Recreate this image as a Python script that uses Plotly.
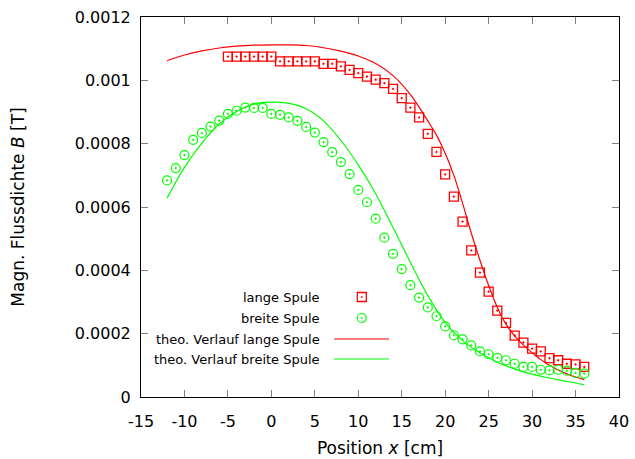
import plotly.graph_objects as go

# ---------------- data ----------------
x_lang = list(range(-5, 37))
b_lang = [0.001075, 0.001075, 0.001075, 0.001075, 0.001075, 0.001075,
          0.00106, 0.00106, 0.00106, 0.00106, 0.00106,
          0.001052, 0.001052, 0.001044, 0.001033, 0.001023, 0.001012, 0.001002,
          0.000991, 0.000973, 0.000944, 0.000914, 0.000883, 0.000831, 0.000774,
          0.000703, 0.000633, 0.000554, 0.000463, 0.000393, 0.000333, 0.000273,
          0.000234, 0.000194, 0.000172, 0.000153, 0.000144, 0.000123, 0.000116,
          0.000105, 0.000103, 0.000095]

x_breit = list(range(-12, 37))
b_breit = [0.000684, 0.000723, 0.000764, 0.000812, 0.000834, 0.000854, 0.000873,
           0.000894, 0.000904, 0.000914, 0.000913, 0.000913, 0.000894, 0.000891,
           0.000883, 0.000872, 0.000853, 0.000835, 0.000805, 0.000773, 0.000742,
           0.000704, 0.000654, 0.000615, 0.000563, 0.000503, 0.000452, 0.000404,
           0.000353, 0.000314, 0.000283, 0.000255, 0.000223, 0.000195, 0.000182,
           0.000163, 0.000144, 0.000135, 0.000124, 0.000116, 0.000105, 0.000095,
           0.000095, 0.000086, 0.000084, 0.000086, 0.000083, 0.000076, 0.000074]

x_theo_lang = [-12, -10, -8, -6, -4, -2, 0, 2, 4, 6, 8, 10, 12, 14, 16, 18, 19, 20,
               21, 22, 23, 24, 25, 26, 27, 28, 29, 30, 31, 32, 33, 34, 35, 36]
b_theo_lang = [0.001062, 0.00108, 0.001093, 0.001102, 0.001108, 0.001111,
               0.001112, 0.001112, 0.00111, 0.001103, 0.001092, 0.001077,
               0.001053, 0.001015, 0.000955, 0.000872, 0.000827, 0.00077,
               0.0007, 0.000612, 0.000518, 0.000432, 0.000352, 0.000283,
               0.00023, 0.000193, 0.000164, 0.00014, 0.000118, 0.0001,
               0.000085, 0.000073, 0.000063, 0.000055]

x_theo_breit = [-12, -10, -8, -6, -4, -2, 0, 2, 4, 6, 8, 10, 12, 14, 16, 18, 20, 22,
                24, 26, 28, 30, 32, 34, 36]
b_theo_breit = [0.000628, 0.000725, 0.000802, 0.000862, 0.000902, 0.000925,
                0.000931, 0.000927, 0.00091, 0.000872, 0.00081, 0.000733,
                0.000642, 0.000535, 0.000425, 0.00032, 0.000235, 0.000178,
                0.00014, 0.00011, 0.000088, 0.000072, 0.00006, 0.000049, 0.000039]

x_ticks = [-15, -10, -5, 0, 5, 10, 15, 20, 25, 30, 35, 40]
x_ticktext = ["-15", "-10", "-5", "0", "5", "10", "15", "20", "25", "30", "35", "40"]
y_ticks = [0, 0.0002, 0.0004, 0.0006, 0.0008, 0.001, 0.0012]
y_ticktext = ["0", "0.0002", "0.0004", "0.0006", "0.0008", "0.001", "0.0012"]

names = ["lange Spule", "breite Spule",
         "theo. Verlauf lange Spule", "theo. Verlauf breite Spule"]

RED = "#ff0000"
GREEN = "#00ff00"
FONT = "DejaVu Sans"

fig = go.Figure()
fig.add_trace(go.Scatter(x=x_theo_lang, y=b_theo_lang, mode="lines", line_shape="spline",
                         line=dict(color=RED, width=1.2), name=names[2]))
fig.add_trace(go.Scatter(x=x_theo_breit, y=b_theo_breit, mode="lines", line_shape="spline",
                         line=dict(color=GREEN, width=1.2), name=names[3]))
fig.add_trace(go.Scatter(x=x_lang, y=b_lang, mode="markers", name=names[0],
                         marker=dict(symbol="square-open-dot", size=9, color=RED,
                                     line=dict(width=1.3, color=RED))))
fig.add_trace(go.Scatter(x=x_breit, y=b_breit, mode="markers", name=names[1],
                         marker=dict(symbol="circle-open-dot", size=9, color=GREEN,
                                     line=dict(width=1.2, color=GREEN))))

# plot area geometry (pixels)
L, R, T, B = 141, 16, 17, 62
W, H = 635, 459
PW, PH = W - L - R, H - T - B


def px(xp):
    return (xp - L) / PW


def py(yp):
    return (H - B - yp) / PH


# manual gnuplot-style key
rows = [297, 318, 339, 359]
annotations = []
for name, yr in zip(names, rows):
    annotations.append(dict(x=px(322), y=py(yr), xref="paper", yref="paper",
                            text=name, showarrow=False, xanchor="right",
                            yanchor="middle", font=dict(family=FONT, size=13, color="black")))

shapes = [
    dict(type="rect", xref="paper", yref="paper",
         x0=px(357.3), x1=px(366.3), y0=py(rows[0] - 4.5), y1=py(rows[0] + 4.5),
         line=dict(color=RED, width=1.3)),
    dict(type="rect", xref="paper", yref="paper",
         x0=px(361.3), x1=px(362.3), y0=py(rows[0] - 0.5), y1=py(rows[0] + 0.5),
         line=dict(color=RED, width=0.6), fillcolor=RED),
    dict(type="circle", xref="paper", yref="paper",
         x0=px(357.3), x1=px(366.3), y0=py(rows[1] - 4.5), y1=py(rows[1] + 4.5),
         line=dict(color=GREEN, width=1.2)),
    dict(type="rect", xref="paper", yref="paper",
         x0=px(361.3), x1=px(362.3), y0=py(rows[1] - 0.5), y1=py(rows[1] + 0.5),
         line=dict(color=GREEN, width=0.6), fillcolor=GREEN),
    dict(type="line", xref="paper", yref="paper",
         x0=px(334), x1=px(389), y0=py(rows[2]), y1=py(rows[2]),
         line=dict(color=RED, width=1.2)),
    dict(type="line", xref="paper", yref="paper",
         x0=px(334), x1=px(389), y0=py(rows[3]), y1=py(rows[3]),
         line=dict(color=GREEN, width=1.2)),
]

axis_common = dict(showgrid=False, zeroline=False, showline=True, linecolor="black",
                   linewidth=1, mirror="allticks", ticks="inside", ticklen=7,
                   tickcolor="#808080", tickwidth=1, automargin=False,
                   tickfont=dict(family=FONT, size=16, color="black"))

fig.update_layout(
    template="none",
    width=W, height=H,
    margin=dict(l=L, r=R, t=T, b=B, pad=0),
    paper_bgcolor="white", plot_bgcolor="white",
    showlegend=False,
    font=dict(family=FONT, color="black"),
    xaxis=dict(range=[-15, 40], tickvals=x_ticks, ticktext=x_ticktext,
               ticklabelstandoff=10,
               title=dict(text="Position <i>x</i> [cm]", font=dict(family=FONT, size=17),
                          standoff=11),
               **axis_common),
    yaxis=dict(range=[0, 0.0012], tickvals=y_ticks, ticktext=y_ticktext,
               ticklabelstandoff=6,
               title=dict(text="Magn. Flussdichte <i>B</i> [T]",
                          font=dict(family=FONT, size=17), standoff=45),
               **axis_common),
    annotations=annotations,
    shapes=shapes,
)

fig.write_html("out.html")
